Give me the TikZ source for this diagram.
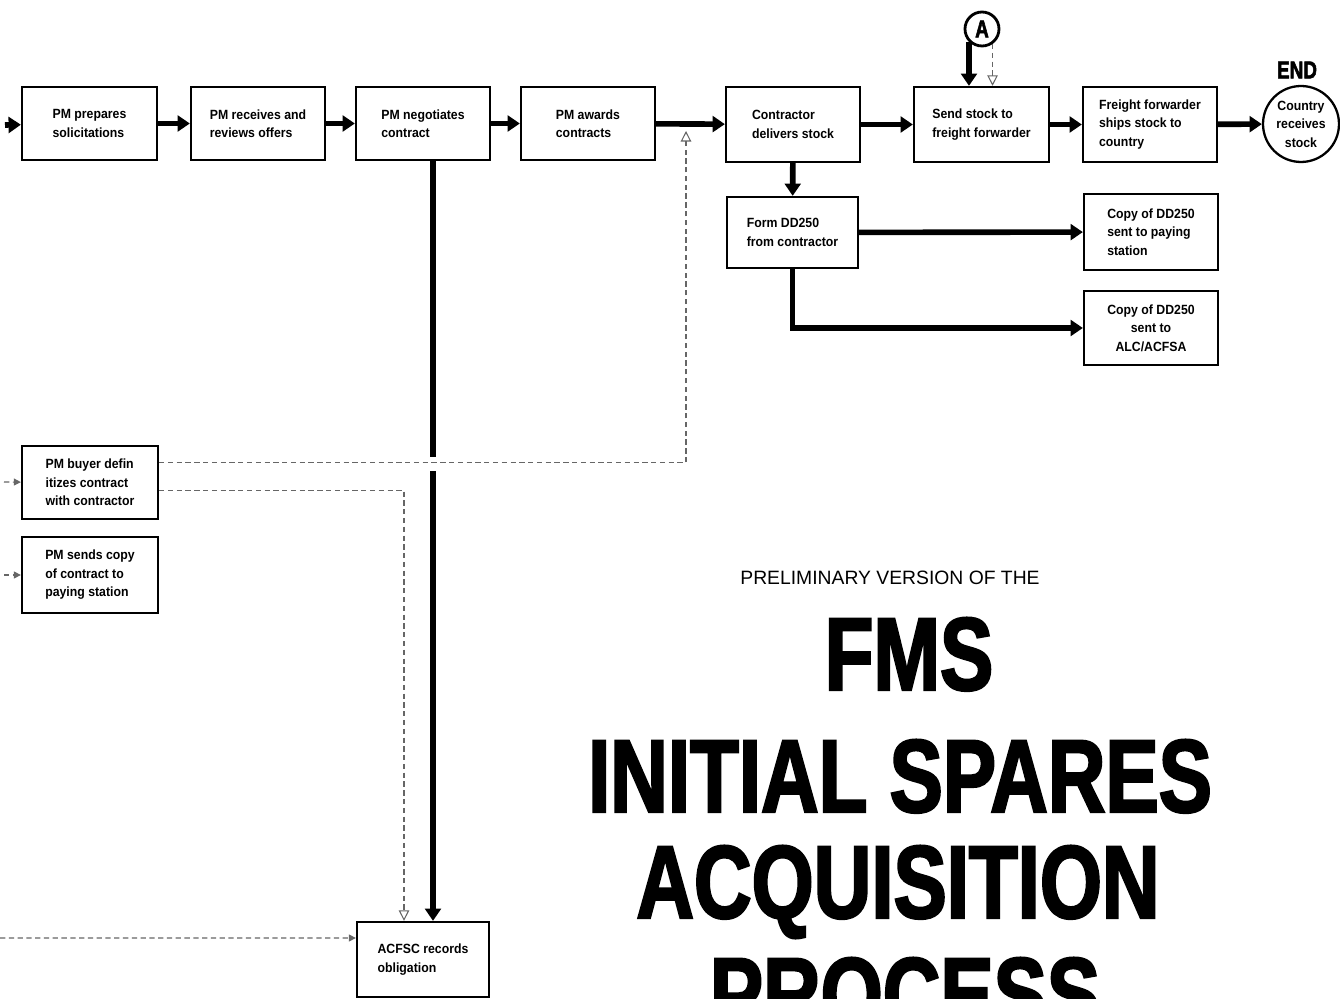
\documentclass[tikz,border=0pt]{standalone}
\usepackage{fontspec}
\setmainfont{Liberation Sans}
\newfontfamily\boxfont[FakeStretch=0.92]{Liberation Sans}
\newfontfamily\titlefont[FakeStretch=0.77,FakeBold=2.2]{Liberation Sans}
\usetikzlibrary{arrows.meta, positioning}

\begin{document}
\begin{tikzpicture}[x=0.02cm, y=-0.02cm,
  stepbox/.style={draw, line width=1.3pt, align=left, inner sep=2pt,
    font=\boxfont\bfseries\fontsize{7.6}{10.5}\selectfont},
  flow/.style={line width=3.2pt, -{Triangle[length=7pt,width=9pt]}},
  hint/.style={densely dashed, line width=0.6pt, black!60, -{Triangle[open,length=6pt,width=6pt]}},
  feed/.style={densely dashed, line width=0.6pt, black!60, -{Triangle[length=4pt,width=4pt]}},
  bigtitle/.style={anchor=base, font=\titlefont\bfseries\fontsize{59}{59}\selectfont}
]
  \useasboundingbox (0,0) rectangle (1340,999);
  \clip (0,0) rectangle (1340,999);

  % Top row
  \node[stepbox, minimum width=2.7cm, minimum height=1.46cm] (solicit) at (89.5,123.5) {PM prepares\\solicitations};
  \node[stepbox, minimum width=2.68cm, minimum height=1.46cm] (offers) at (258,123.5) {PM receives and\\reviews offers};
  \node[stepbox, minimum width=2.68cm, minimum height=1.46cm] (negot) at (423,123.5) {PM negotiates\\contract};
  \node[stepbox, minimum width=2.68cm, minimum height=1.46cm] (awards) at (588,123.5) {PM awards\\contracts};
  \node[stepbox, minimum width=2.68cm, minimum height=1.5cm] (delivers) at (793,124.5) {Contractor\\delivers stock};
  \node[stepbox, minimum width=2.7cm, minimum height=1.5cm] (sendff) at (981.5,124.5) {Send stock to\\freight forwarder};
  \node[stepbox, minimum width=2.68cm, minimum height=1.5cm] (ships) at (1150,124.5) {Freight forwarder\\ships stock to\\country};
  \node[stepbox, circle, align=center, inner sep=0pt, minimum size=1.52cm] (country) at (1301,124) {Country\\receives\\stock};
  \node[font=\titlefont\bfseries\fontsize{14}{14}\selectfont] (endlbl) at (1297,70) {END};
  \node[circle, draw, line width=1.6pt, inner sep=0pt, minimum size=0.68cm,
        font=\titlefont\bfseries\fontsize{14}{14}\selectfont] (conA) at (982,29) {A};

  % DD250 branch
  \node[stepbox, minimum width=2.62cm, minimum height=1.42cm] (formdd) at (792.5,232.5) {Form DD250\\from contractor};
  \node[stepbox, minimum width=2.68cm, minimum height=1.52cm] (paystn) at (1151,232) {Copy of DD250\\sent to paying\\station};
  \node[stepbox, align=center, minimum width=2.68cm, minimum height=1.48cm] (alcdd) at (1151,328) {Copy of DD250\\sent to\\ALC/ACFSA};

  % Left column
  \node[stepbox, minimum width=2.72cm, minimum height=1.46cm] (buyer) at (90,482.5) {PM buyer defin\\itizes contract\\with contractor};
  \node[stepbox, minimum width=2.72cm, minimum height=1.52cm] (sendcopy) at (90,575) {PM sends copy\\of contract to\\paying station};
  \node[stepbox, minimum width=2.64cm, minimum height=1.5cm] (acfsc) at (423,959.5) {ACFSC records\\obligation};

  % Free ends
  \coordinate (inflow) at (5,125);
  \coordinate (inbuyer) at (4,482);
  \coordinate (incopy) at (4,575);
  \coordinate (inacfsc) at (0,938);
  \coordinate (hook) at (686,131);

  % Main flow
  \draw[flow] (inflow) -- (solicit);
  \draw[flow] (solicit) -- (offers);
  \draw[flow] (offers) -- (negot);
  \draw[flow] (negot) -- (awards);
  \draw[flow] (awards) -- (delivers);
  \draw[flow] (delivers) -- (sendff);
  \draw[flow] (sendff) -- (ships);
  \draw[flow] (ships) -- (country);
  \draw[flow] (conA.225) -- (conA.225 |- sendff.north);
  \draw[hint] (conA.-55) -- (conA.-55 |- sendff.north);
  \draw[flow] (delivers) -- (formdd);
  \draw[flow] (formdd) -- (paystn);
  \draw[flow] (formdd.south) |- (alcdd.west);
  \draw[flow] ([xshift=0.2cm]negot.south) -- ([xshift=0.2cm]acfsc.north);

  % Dashed links
  \fill[white] (426,457) rectangle (440,471);
  \draw[hint] ([yshift=0.4cm]buyer.east) -| (hook);
  \draw[hint] ([yshift=-0.16cm]buyer.east) -| ([xshift=-0.38cm]acfsc.north);
  \draw[feed] (inbuyer) -- (buyer);
  \draw[feed] (incopy) -- (sendcopy);
  \draw[feed] (inacfsc) -- ([yshift=0.43cm]acfsc.west);

  % Title
  \node[font=\fontsize{11}{11}\selectfont] (prelim) at (890,578) {PRELIMINARY VERSION OF THE};
  \node[bigtitle] (fms) at (909,690) {FMS};
  \node[bigtitle] (spares) at (900,812) {INITIAL SPARES};
  \node[bigtitle] (acq) at (898,918) {ACQUISITION};
  \node[bigtitle] (process) at (905,1030) {PROCESS};
\end{tikzpicture}
\end{document}
